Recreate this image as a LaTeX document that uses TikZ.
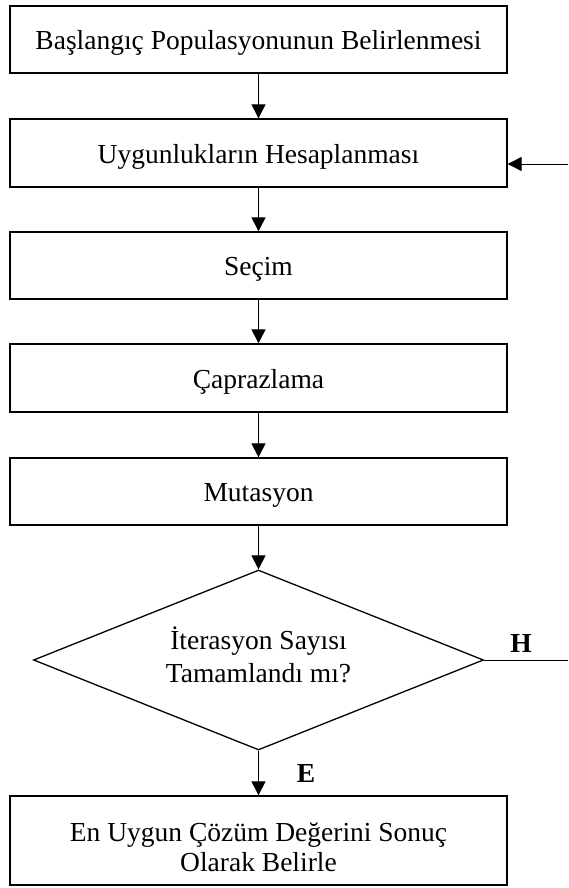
\documentclass[tikz,border=0pt]{standalone}
\usepackage{fontspec}
\setmainfont{Liberation Serif}
\usetikzlibrary{shapes.geometric,arrows.meta}
\begin{document}
\begin{tikzpicture}[x=1pt,y=-1pt,
  every node/.style={font=\fontsize{27.5}{31}\selectfont},
  stepbox/.style={draw,line width=1.3pt,minimum width=497pt,inner sep=0pt,align=center,text height=20.5pt,text depth=0pt},
  decision/.style={draw,diamond,aspect=2.5,line width=1.3pt,minimum width=450pt,minimum height=180pt,inner sep=0pt,align=center,font=\fontsize{27.5}{33}\selectfont,text height=44pt,text depth=0pt},
  flow/.style={line width=1pt,-{Triangle[length=14pt,width=14pt]}},
  plainline/.style={line width=1pt},
  branch/.style={font=\fontsize{27.5}{31}\selectfont\bfseries}]
\useasboundingbox (0,0) rectangle (568,888);
\node[stepbox,minimum height=67pt] (b1) at (258.5,39.5) {Başlangıç Populasyonunun Belirlenmesi};
\node[stepbox,minimum height=68pt] (b2) at (258.5,153) {Uygunlukların Hesaplanması};
\node[stepbox,minimum height=67pt] (b3) at (258.5,265.5) {Seçim};
\node[stepbox,minimum height=68pt] (b4) at (258.5,378) {Çaprazlama};
\node[stepbox,minimum height=67pt] (b5) at (258.5,491.5) {Mutasyon};
\node[decision] (d) at (258.5,660) {İterasyon Sayısı\\Tamamlandı mı?};
\node[stepbox,minimum height=89pt,font=\fontsize{27.5}{30}\selectfont,text height=61pt] (b6) at (258.5,840.5) {En Uygun Çözüm Değerini Sonuç\\Olarak Belirle};
\coordinate (hout) at (568,660);
\coordinate (hin) at (568,164);
\draw[flow] (b1.south) -- (b2.north);
\draw[flow] (b2.south) -- (b3.north);
\draw[flow] (b3.south) -- (b4.north);
\draw[flow] (b4.south) -- (b5.north);
\draw[flow] (b5.south) -- (d.north);
\draw[flow] (d.south) -- (b6.north);
\draw[plainline] (d.east) -- (hout);
\draw[flow] (hin) -- (hin -| b2.east);
\node[branch] (lh) at (521,643) {H};
\node[branch] (le) at (306,773) {E};
\end{tikzpicture}
\end{document}
